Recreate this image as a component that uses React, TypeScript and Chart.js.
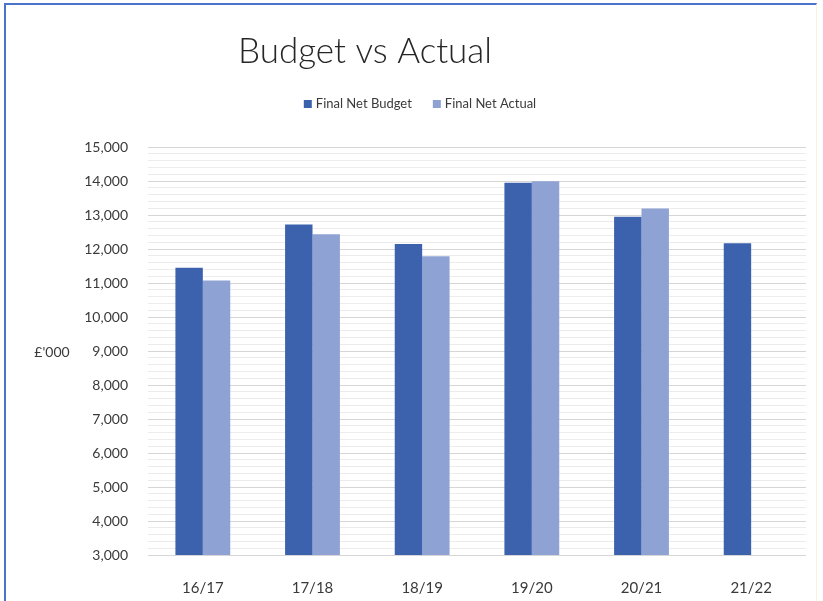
import React, { useEffect, useRef } from "react";
import { Chart, registerables } from "chart.js";

Chart.register(...registerables);

const categories = ["16/17", "17/18", "18/19", "19/20", "20/21", "21/22"];
const finalNetBudget = [11450, 12720, 12150, 13950, 12950, 12170];
const finalNetActual: (number | null)[] = [11070, 12435, 11785, 13990, 13190, null];
const seriesNames = ["Final Net Budget", "Final Net Actual"];
const chartTitle = "Budget vs Actual";
const yAxisTitle = "£'000";
const yMin = 3000;
const yMax = 15000;

const BUDGET_COLOR = "#3C62AE";
const ACTUAL_COLOR = "#8EA2D4";
const TEXT_COLOR = "#3a3a3a";

const headerPlugin = {
  id: "headerPlugin",
  afterDraw(chart: any) {
    const ctx = chart.ctx as CanvasRenderingContext2D;
    ctx.save();
    // Title
    ctx.fillStyle = "#262626";
    ctx.font = "300 35px Lato, 'Open Sans', sans-serif";
    ctx.textAlign = "center";
    ctx.textBaseline = "alphabetic";
    ctx.fillText(chartTitle, 365, 63);

    // Legend
    ctx.font = "13px Lato, 'Open Sans', sans-serif";
    const box = 8;
    const gapBoxText = 4;
    const gapItems = 21;
    const widths = seriesNames.map((n) => ctx.measureText(n).width);
    const total = widths.reduce((a, w) => a + box + gapBoxText + w, 0) + gapItems;
    let x = 420 - total / 2;
    const cy = 104;
    const colors = chart.data.datasets.map((d: any) => d.backgroundColor);
    seriesNames.forEach((n, i) => {
      ctx.fillStyle = colors[i];
      ctx.fillRect(x, cy - box / 2, box, box);
      x += box + gapBoxText;
      ctx.fillStyle = TEXT_COLOR;
      ctx.textAlign = "left";
      ctx.textBaseline = "middle";
      ctx.fillText(n, x, cy);
      x += widths[i] + gapItems;
    });

    // Y axis title (horizontal)
    ctx.font = "14px Lato, 'Open Sans', sans-serif";
    ctx.fillStyle = TEXT_COLOR;
    ctx.textAlign = "center";
    ctx.textBaseline = "middle";
    ctx.fillText(yAxisTitle, 52, 352);
    ctx.restore();
  },
};

export default function App() {
  const canvasRef = useRef<HTMLCanvasElement | null>(null);

  useEffect(() => {
    if (!canvasRef.current) return;
    const chart = new Chart(canvasRef.current, {
      type: "bar",
      data: {
        labels: categories,
        datasets: [
          {
            label: seriesNames[0],
            data: finalNetBudget,
            backgroundColor: BUDGET_COLOR,
            categoryPercentage: 0.5,
            barPercentage: 1.0,
          },
          {
            label: seriesNames[1],
            data: finalNetActual,
            backgroundColor: ACTUAL_COLOR,
            categoryPercentage: 0.5,
            barPercentage: 1.0,
          },
        ],
      },
      options: {
        responsive: false,
        animation: false,
        devicePixelRatio: 1,
        layout: { padding: { top: 147, right: 17, left: 0, bottom: 0 } },
        plugins: {
          legend: { display: false },
          title: { display: false },
          tooltip: { enabled: false },
        },
        scales: {
          x: {
            grid: { display: false },
            border: { display: false },
            ticks: {
              color: TEXT_COLOR,
              font: { family: "Lato, 'Open Sans', sans-serif", size: 15 },
              padding: 16,
              maxRotation: 0,
            },
            afterFit: (scale: any) => {
              scale.height = 46;
            },
          },
          y: {
            min: yMin,
            max: yMax,
            border: { display: false },
            grid: {
              drawTicks: false,
              color: (c: any) =>
                c.tick && Math.round(c.tick.value) % 1000 === 0 ? "#d6d6d6" : "#ececec",
              lineWidth: 1,
            },
            ticks: {
              stepSize: 200,
              autoSkip: false,
              padding: 20,
              color: TEXT_COLOR,
              font: { family: "Lato, 'Open Sans', sans-serif", size: 14 },
              callback: (v: any) =>
                Math.round(Number(v)) % 1000 === 0
                  ? Math.round(Number(v)).toLocaleString("en-GB")
                  : "",
            },
            afterFit: (scale: any) => {
              scale.width = 148;
            },
          },
        },
      },
      plugins: [headerPlugin],
    });
    return () => chart.destroy();
  }, []);

  return (
    <div
      style={{
        position: "absolute",
        left: 0,
        top: 0,
        width: 823,
        height: 601,
        background: "#ffffff",
        overflow: "hidden",
      }}
    >
      <canvas
        ref={canvasRef}
        width={823}
        height={601}
        style={{ position: "absolute", left: 0, top: 0, width: 823, height: 601 }}
      />
      <div
        style={{
          position: "absolute",
          left: 4,
          top: 3,
          width: 813,
          height: 600,
          borderTop: "2px solid #4A74C9",
          borderLeft: "2px solid #4A74C9",
          borderRight: "1px solid #F6F3DA",
          boxSizing: "border-box",
          pointerEvents: "none",
        }}
      />
    </div>
  );
}
